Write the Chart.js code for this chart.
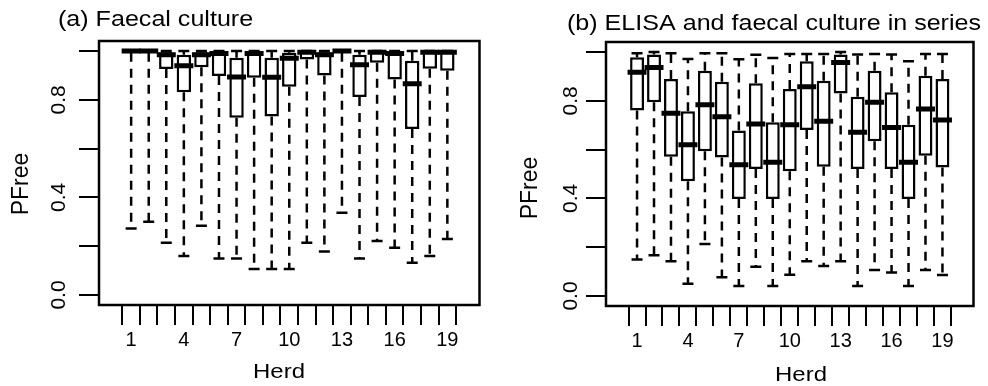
<!DOCTYPE html>
<html>
<head>
<meta charset="utf-8">
<script src="https://cdn.jsdelivr.net/npm/chart.js@4.4.1/dist/chart.umd.min.js"></script>
<style>
  html, body { margin: 0; padding: 0; background: #fff; }
  #wrap { position: relative; width: 988px; height: 386px; overflow: hidden; }
  .panel { position: absolute; top: 0; width: 494px; height: 386px; }
</style>
</head>
<body>
<div id="wrap">
  <div class="panel" style="left:0"><canvas id="faecal" width="494" height="386"></canvas></div>
  <div class="panel" style="left:494px"><canvas id="series" width="494" height="386"></canvas></div>
</div>
<script>
// Herds on the x axis and the ticks that carry a label
const herds = [1, 2, 3, 4, 5, 6, 7, 8, 9, 10, 11, 12, 13, 14, 15, 16, 17, 18, 19];
const labelledHerds = [1, 4, 7, 10, 13, 16, 19];
const yTickValues = [0, 0.2, 0.4, 0.6, 0.8, 1.0];
const yLabelledValues = [0, 0.4, 0.8];

const xTitle = 'Herd';
const yTitle = 'PFree';
const faecalTitle = '(a) Faecal culture';
const seriesTitle = '(b) ELISA and faecal culture in series';

// (a) Faecal culture: box-plot statistics of PFree per herd
const faecalLower  = [0.273, 0.300, 0.214, 0.160, 0.284, 0.150, 0.150, 0.107, 0.107, 0.107, 0.214, 0.178, 0.337, 0.150, 0.221, 0.194, 0.132, 0.160, 0.230];
const faecalQ1     = [0.993, 0.993, 0.926, 0.831, 0.933, 0.898, 0.726, 0.890, 0.732, 0.853, 0.965, 0.900, 0.993, 0.811, 0.952, 0.883, 0.680, 0.927, 0.919];
const faecalMedian = [1.000, 1.000, 0.985, 0.940, 0.985, 0.990, 0.893, 0.990, 0.892, 0.970, 0.995, 0.985, 1.000, 0.944, 0.995, 0.990, 0.866, 0.995, 0.995];
const faecalQ3     = [1.000, 1.000, 0.995, 0.985, 0.995, 1.000, 0.972, 1.000, 0.972, 0.993, 1.000, 0.995, 1.000, 0.985, 1.000, 1.000, 0.960, 1.000, 1.000];
const faecalUpper  = [1.000, 1.000, 1.000, 1.000, 1.000, 1.000, 1.000, 1.000, 1.000, 1.000, 1.000, 1.000, 1.000, 1.000, 1.000, 1.000, 1.000, 1.000, 1.000];

// (b) ELISA and faecal culture in series
const seriesLower  = [0.150, 0.167, 0.142, 0.050, 0.213, 0.077, 0.041, 0.120, 0.041, 0.087, 0.142, 0.123, 0.142, 0.041, 0.107, 0.096, 0.041, 0.107, 0.086];
const seriesQ1     = [0.760, 0.794, 0.571, 0.470, 0.593, 0.568, 0.398, 0.520, 0.398, 0.511, 0.680, 0.530, 0.830, 0.520, 0.634, 0.520, 0.398, 0.575, 0.527];
const seriesMedian = [0.917, 0.937, 0.749, 0.620, 0.784, 0.735, 0.538, 0.705, 0.548, 0.702, 0.858, 0.716, 0.957, 0.671, 0.794, 0.691, 0.548, 0.766, 0.721];
const seriesQ3     = [0.978, 0.990, 0.889, 0.757, 0.923, 0.878, 0.678, 0.872, 0.712, 0.848, 0.962, 0.882, 0.990, 0.817, 0.923, 0.835, 0.702, 0.903, 0.889];
const seriesUpper  = [0.995, 1.000, 0.995, 0.971, 0.995, 0.995, 0.970, 0.989, 0.975, 0.992, 0.992, 0.992, 1.000, 0.990, 0.992, 0.990, 0.962, 0.992, 0.992];

const FONT = '"Liberation Sans", Arial, Helvetica, sans-serif';

function drawText(ctx, text, x, y, size, opts) {
  const o = Object.assign({ align: 'left', stretch: 1, rotate: 0 }, opts || {});
  ctx.save();
  ctx.translate(x, y);
  if (o.rotate) ctx.rotate(o.rotate);
  ctx.scale(o.stretch, 1);
  ctx.font = size + 'px ' + FONT;
  ctx.textAlign = o.align;
  ctx.textBaseline = 'alphabetic';
  ctx.fillStyle = '#000';
  ctx.fillText(text, 0, 0);
  ctx.restore();
}

// Frame around the plot region, panel title, axis titles and rotated y labels
const panelDecor = {
  id: 'panelDecor',
  afterDraw(chart, args, o) {
    const ctx = chart.ctx;
    const a = chart.chartArea;
    ctx.save();
    ctx.strokeStyle = '#000';
    ctx.lineWidth = 2.5;
    ctx.strokeRect(a.left, a.top, a.right - a.left, a.bottom - a.top);
    ctx.restore();

    drawText(ctx, o.title, o.titleX, o.titleY, 22, { stretch: 1.14 });
    drawText(ctx, xTitle, o.xTitleX, o.xTitleY, 21, { align: 'center', stretch: 1.14 });
    drawText(ctx, yTitle, o.yTitleX, o.yTitleY, 23, { align: 'center', rotate: -Math.PI / 2 });

    const ys = chart.scales.y;
    yLabelledValues.forEach(v => {
      drawText(ctx, v.toFixed(1), o.yLabelX, ys.getPixelForValue(v), 21, { align: 'center', rotate: -Math.PI / 2 });
    });
  }
};

function boxChart(canvasId, s, L, decor) {
  const whiskers = [];
  const caps = [];
  herds.forEach((h, i) => {
    whiskers.push({ x: h, y: s.q1[i] }, { x: h, y: s.lower[i] }, { x: h, y: null });
    whiskers.push({ x: h, y: s.q3[i] }, { x: h, y: s.upper[i] }, { x: h, y: null });
    caps.push({ x: h, y: s.lower[i] }, { x: h, y: s.upper[i] });
  });

  return new Chart(document.getElementById(canvasId), {
    type: 'bar',
    data: {
      datasets: [
        {
          type: 'line', data: whiskers, order: 4,
          borderColor: '#000', borderWidth: 2.5, borderDash: [9, 7],
          pointRadius: 0, spanGaps: false, fill: false, tension: 0
        },
        {
          type: 'line', data: caps, order: 3, showLine: false,
          pointStyle: 'line', pointRadius: 5.5, pointBorderWidth: 2.5,
          pointBorderColor: '#000', pointBackgroundColor: '#000'
        },
        {
          type: 'bar', order: 2,
          data: herds.map((h, i) => ({ x: h, y: [s.q1[i], s.q3[i]] })),
          backgroundColor: '#fff', borderColor: '#000', borderWidth: 2.5,
          borderSkipped: false, barPercentage: 0.82, categoryPercentage: 1.0
        },
        {
          type: 'line', order: 1, showLine: false,
          data: herds.map((h, i) => ({ x: h, y: s.median[i] })),
          pointStyle: 'line', pointRadius: 9.5, pointBorderWidth: 5,
          pointBorderColor: '#000', pointBackgroundColor: '#000'
        }
      ]
    },
    options: {
      responsive: false,
      devicePixelRatio: 1,
      animation: false,
      events: [],
      layout: { padding: { left: 0, right: L.right, top: L.top, bottom: 0 } },
      plugins: {
        legend: { display: false },
        tooltip: { enabled: false },
        panelDecor: decor
      },
      scales: {
        x: {
          type: 'linear', min: -0.26, max: 20.26,
          afterBuildTicks: sc => { sc.ticks = herds.map(v => ({ value: v })); },
          afterFit: sc => { sc.height = L.xHeight; },
          grid: { display: true, drawOnChartArea: false, drawTicks: true, tickLength: 20, color: '#000', lineWidth: 2 },
          border: { display: false },
          ticks: {
            autoSkip: false, maxRotation: 0, minRotation: 0, padding: 3, color: '#000',
            font: { family: FONT, size: 20 },
            callback: v => labelledHerds.includes(v) ? String(v) : ''
          }
        },
        y: {
          type: 'linear', min: -0.041, max: 1.041,
          afterBuildTicks: sc => { sc.ticks = yTickValues.map(v => ({ value: v })); },
          afterFit: sc => { sc.width = L.yWidth; },
          grid: { display: true, drawOnChartArea: false, drawTicks: true, tickLength: 20, color: '#000', lineWidth: 2 },
          border: { display: false },
          ticks: { display: false }
        }
      }
    },
    plugins: [panelDecor]
  });
}

boxChart('faecal',
  { lower: faecalLower, q1: faecalQ1, median: faecalMedian, q3: faecalQ3, upper: faecalUpper },
  { right: 14, top: 41, xHeight: 81, yWidth: 99 },
  { title: faecalTitle, titleX: 58, titleY: 26, xTitleX: 279, xTitleY: 378, yTitleX: 28, yTitleY: 184, yLabelX: 65 });

boxChart('series',
  { lower: seriesLower, q1: seriesQ1, median: seriesMedian, q3: seriesQ3, upper: seriesUpper },
  { right: 1, top: 42, xHeight: 80, yWidth: 112 },
  { title: seriesTitle, titleX: 73, titleY: 30, xTitleX: 307, xTitleY: 381, yTitleX: 43, yTitleY: 188, yLabelX: 83 });
</script>
</body>
</html>
